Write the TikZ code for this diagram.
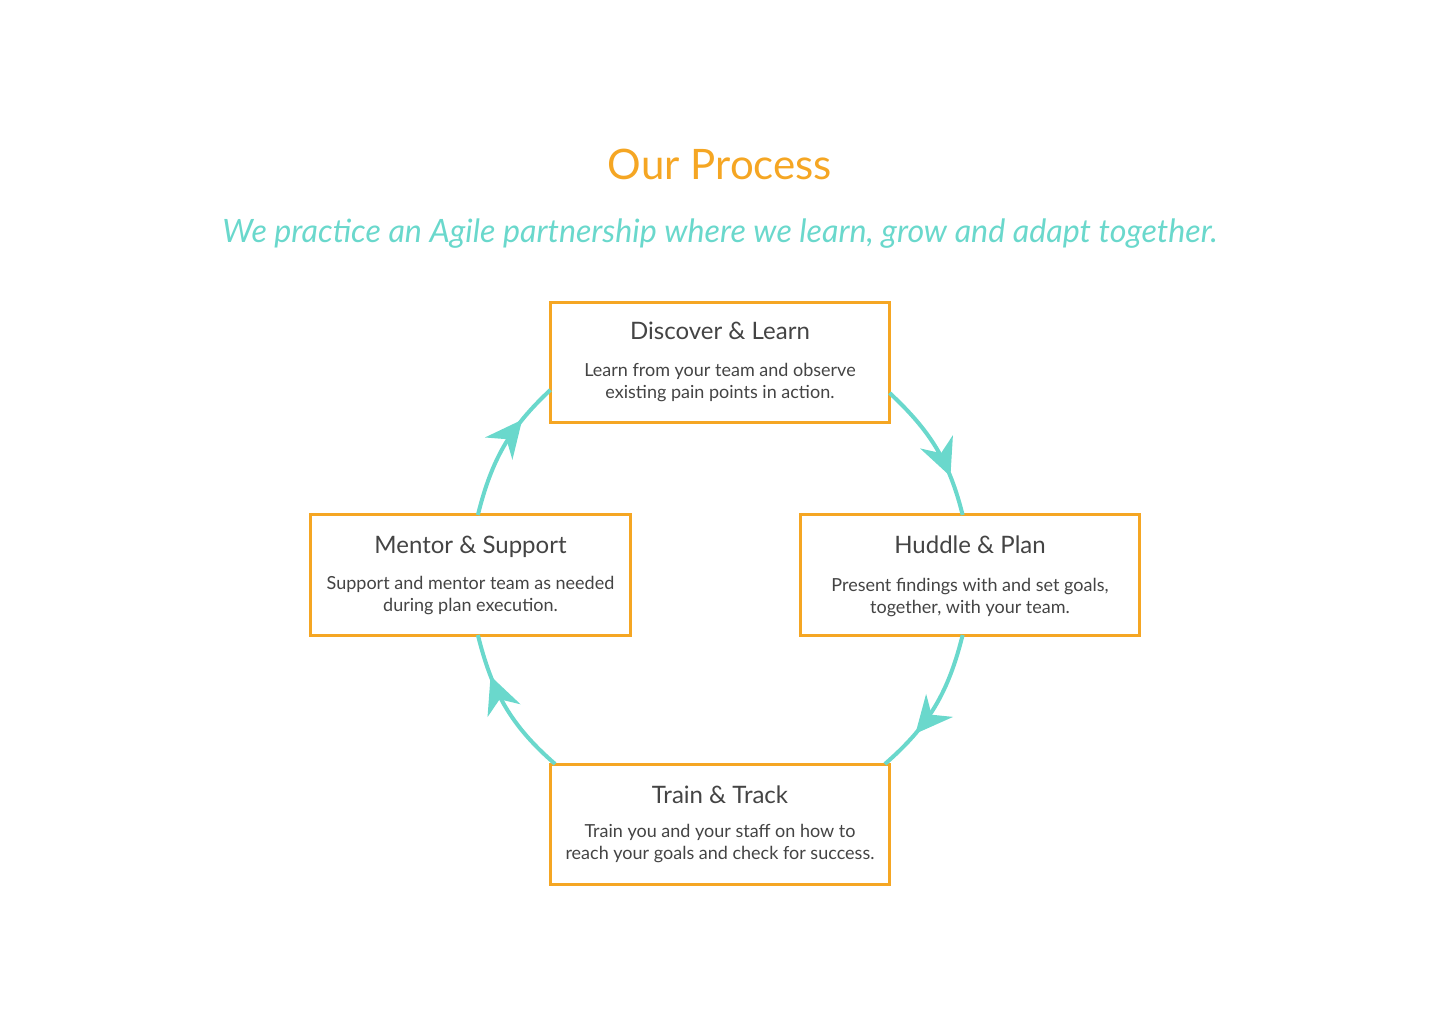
\documentclass[tikz,border=0pt]{standalone}
\usepackage{fontspec}
\setmainfont{Lato}
\usetikzlibrary{arrows.meta,decorations.markings}
\definecolor{procorange}{HTML}{F5A623}
\definecolor{procteal}{HTML}{6AD8CC}
\definecolor{proctext}{HTML}{444444}

\begin{document}
\begin{tikzpicture}[x=0.5pt, y=0.5pt,
  stage box/.style={rectangle, draw=procorange, line width=1.5pt, fill=white, minimum width=169.5pt, minimum height=60pt, outer sep=0pt, inner sep=0pt},
  stage title/.style={anchor=base, text=proctext, font=\fontsize{12}{14}\selectfont},
  stage text/.style={anchor=base, text=proctext, align=center, font=\fontsize{9}{11}\selectfont},
  flow/.style={draw=procteal, line width=2pt, postaction={decorate},
    decoration={markings, mark=at position 0.72 with {\arrow{Stealth[length=18.5pt, width=17.5pt, inset=6pt]}}}}]
  \useasboundingbox (0,0) rectangle (1440,1024);

  \node[anchor=base, text=procorange, font=\fontsize{21}{25}\selectfont] at (720, 844) (head) {Our Process};
  \node[anchor=base, text=procteal, font=\fontsize{16.1}{19}\selectfont\itshape] at (720, 781) (sub) {We practice an Agile partnership where we learn, grow and adapt together.};

  % the four stages
  \node[stage box] at (720, 661) (d) {};
  \node[stage title] at (720, 684) (dt) {Discover \& Learn};
  \node[stage text] at (720, 625) (db) {Learn from your team and observe\\existing pain points in action.};

  \node[stage box] at (970, 449) (h) {};
  \node[stage title] at (970, 470) (ht) {Huddle \& Plan};
  \node[stage text] at (970, 410) (hb) {Present findings with and set goals,\\together, with your team.};

  \node[stage box] at (720, 200) (t) {};
  \node[stage title] at (720, 221) (tt) {Train \& Track};
  \node[stage text] at (720, 165) (tb) {Train you and your staff on how to\\reach your goals and check for success.};

  \node[stage box, minimum width=160pt] at (470.5, 449) (m) {};
  \node[stage title] at (470.5, 471) (mt) {Mentor \& Support};
  \node[stage text] at (470.5, 413) (mb) {Support and mentor team as needed\\during plan execution.};

  % cycle
  \path (d.-10) edge[flow, out=-43, in=104] (h.97);
  \path (h.-97) edge[flow, out=-104, in=41] (t.20);
  \path (t.160) edge[flow, out=139, in=-76] (m.-83);
  \path (m.83) edge[flow, out=76, in=-137] (d.189);

\end{tikzpicture}
\end{document}
